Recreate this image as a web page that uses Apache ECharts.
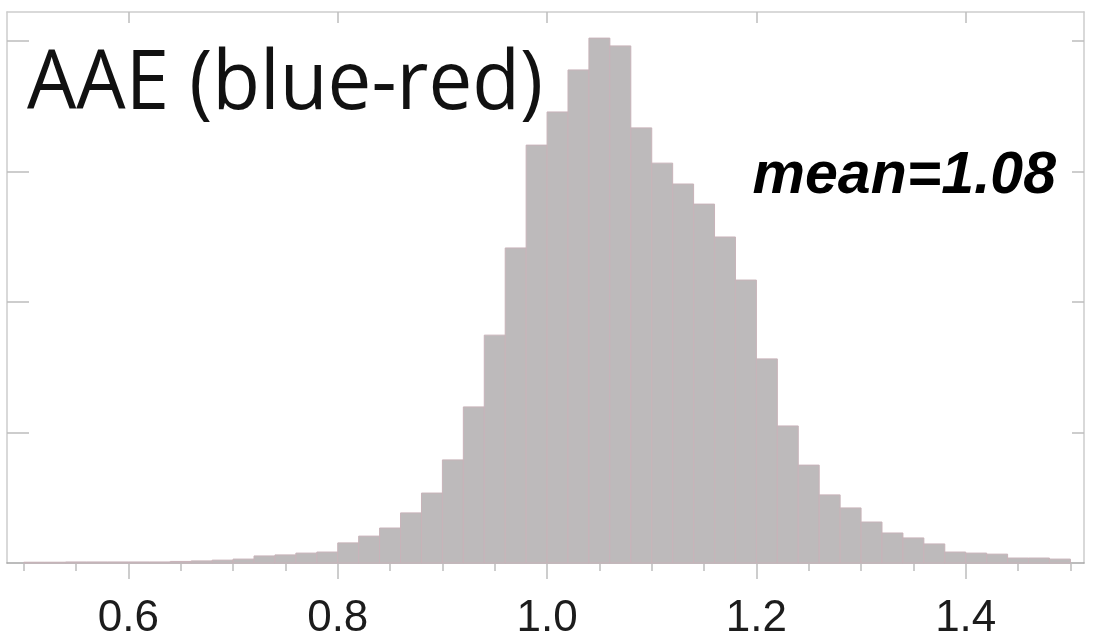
<!DOCTYPE html>
<html>
<head>
<meta charset="utf-8">
<script src="https://cdn.jsdelivr.net/npm/echarts@6/dist/echarts.min.js"></script>
<style>
  html, body { margin: 0; padding: 0; background: #fff; }
  #chart { width: 1094px; height: 641px; }
</style>
</head>
<body>
<div id="chart"></div>
<script>
// Histogram of AAE (blue-red): left edge of each 0.02-wide bin and its count
const binStarts = [
  0.48, 0.50, 0.52, 0.54, 0.56, 0.58, 0.60, 0.62, 0.64, 0.66,
  0.68, 0.70, 0.72, 0.74, 0.76, 0.78, 0.80, 0.82, 0.84, 0.86,
  0.88, 0.90, 0.92, 0.94, 0.96, 0.98, 1.00, 1.02, 1.04, 1.06,
  1.08, 1.10, 1.12, 1.14, 1.16, 1.18, 1.20, 1.22, 1.24, 1.26,
  1.28, 1.30, 1.32, 1.34, 1.36, 1.38, 1.40, 1.42, 1.44, 1.46,
  1.48
];
const binWidth = 0.02;
const counts = [
  0, 3, 3, 4, 4, 4, 4, 4, 6, 8,
  11, 15, 27, 31, 38, 42, 77, 103, 134, 192,
  268, 395, 598, 873, 1207, 1601, 1728, 1889, 2011, 1981,
  1667, 1532, 1452, 1375, 1249, 1084, 782, 525, 375, 261,
  211, 157, 115, 96, 73, 42, 38, 34, 19, 19,
  15
];
const meanValue = 1.08;
const titleText = 'AAE (blue-red)';

// Axis marks
const xMin = 0.484, xMax = 1.513;
const yMin = 0, yMax = 2111;
const majorTicks = [0.6, 0.8, 1.0, 1.2, 1.4];
const minorTicks = [
  0.50, 0.55, 0.60, 0.65, 0.70, 0.75, 0.80, 0.85, 0.90, 0.95, 1.00,
  1.05, 1.10, 1.15, 1.20, 1.25, 1.30, 1.35, 1.40, 1.45, 1.50
];
const yTicks = [500, 1000, 1500, 2000];

const frameColor = '#cdcdcd';
const tickColor = '#bdbdbd';

const chart = echarts.init(document.getElementById('chart'), null, { renderer: 'canvas' });

const gridBox = { left: 7, right: 10, top: 12, bottom: 78 };

const option = {
  backgroundColor: '#ffffff',
  animation: false,
  grid: [
    Object.assign({ containLabel: false }, gridBox),
    Object.assign({ containLabel: false }, gridBox)
  ],
  xAxis: [
    {
      // bottom axis: all ticks and the labels
      type: 'value', gridIndex: 0, position: 'bottom', min: xMin, max: xMax,
      axisLine: { show: true, onZero: false, lineStyle: { color: '#a6a6a6', width: 1.5 } },
      axisTick: { show: true, inside: false, length: 8, customValues: minorTicks,
                  lineStyle: { color: tickColor, width: 1.5 } },
      axisLabel: { show: true, customValues: majorTicks, margin: 34,
                   formatter: v => v.toFixed(1),
                   fontFamily: 'Liberation Sans', fontSize: 44, color: '#1c1c1c' },
      splitLine: { show: false }
    },
    {
      // top frame with inward major ticks
      type: 'value', gridIndex: 0, position: 'top', min: xMin, max: xMax,
      axisLine: { show: true, onZero: false, lineStyle: { color: frameColor, width: 1.5 } },
      axisTick: { show: true, inside: true, length: 11, customValues: majorTicks,
                  lineStyle: { color: tickColor, width: 1.5 } },
      axisLabel: { show: false },
      splitLine: { show: false }
    },
    {
      // longer major ticks under the bottom axis
      type: 'value', gridIndex: 1, position: 'bottom', min: xMin, max: xMax,
      axisLine: { show: false },
      axisTick: { show: true, inside: false, length: 16, customValues: majorTicks,
                  lineStyle: { color: tickColor, width: 1.5 } },
      axisLabel: { show: false },
      splitLine: { show: false }
    }
  ],
  yAxis: [
    {
      type: 'value', gridIndex: 0, position: 'left', min: yMin, max: yMax,
      axisLine: { show: true, onZero: false, lineStyle: { color: frameColor, width: 1.5 } },
      axisTick: { show: true, inside: true, length: 22, customValues: yTicks,
                  lineStyle: { color: tickColor, width: 1.5 } },
      axisLabel: { show: false },
      splitLine: { show: false }
    },
    {
      type: 'value', gridIndex: 0, position: 'right', min: yMin, max: yMax,
      axisLine: { show: true, onZero: false, lineStyle: { color: frameColor, width: 1.5 } },
      axisTick: { show: true, inside: true, length: 12, customValues: yTicks,
                  lineStyle: { color: tickColor, width: 1.5 } },
      axisLabel: { show: false },
      splitLine: { show: false }
    },
    {
      type: 'value', gridIndex: 1, min: yMin, max: yMax, show: false
    }
  ],
  series: [
    {
      type: 'custom',
      xAxisIndex: 0,
      yAxisIndex: 0,
      z: 1,
      data: binStarts.map((s, i) => [s, s + binWidth, counts[i]]),
      encode: { x: [0, 1], y: 2 },
      renderItem: function (params, api) {
        const lo = api.value(0), hi = api.value(1), c = api.value(2);
        if (c <= 0) return null;
        const p0 = api.coord([lo, c]);
        const p1 = api.coord([hi, 0]);
        return {
          type: 'rect',
          shape: { x: p0[0], y: p0[1], width: p1[0] - p0[0], height: p1[1] - p0[1] },
          style: { fill: '#bdbabb', stroke: '#c8b3b9', lineWidth: 1 }
        };
      }
    }
  ],
  graphic: [
    {
      type: 'text', x: 27, y: 44, scaleX: 0.94, z: 10,
      style: { text: titleText, fontFamily: 'Open Sans', fontSize: 83,
               fill: '#111111', verticalAlign: 'top' }
    },
    {
      type: 'text', right: 38, top: 147, z: 10,
      style: { text: 'mean=' + meanValue.toFixed(2), fontFamily: 'Liberation Sans',
               fontSize: 59, fontWeight: 'bold', fontStyle: 'italic', fill: '#000000' }
    }
  ]
};

chart.setOption(option);
</script>
</body>
</html>
